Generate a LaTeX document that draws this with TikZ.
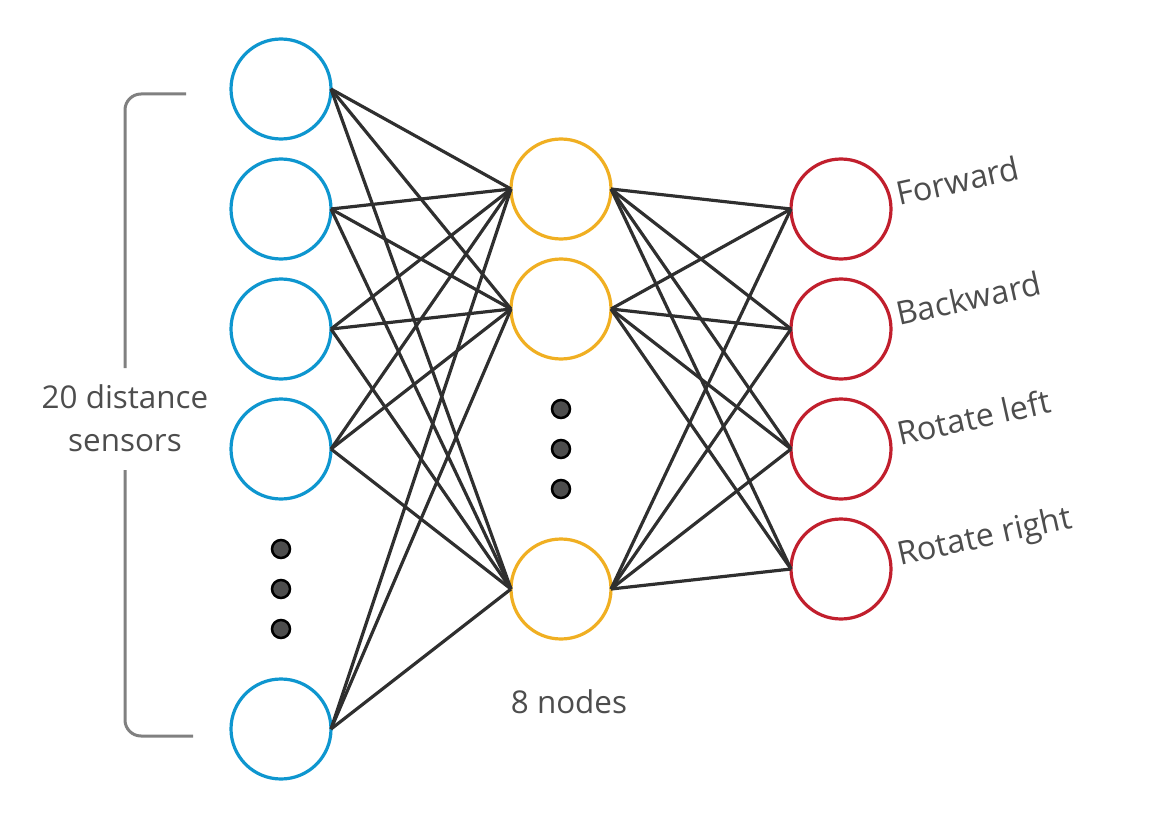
\documentclass[tikz,border=0pt]{standalone}
\usepackage{fontspec}
\setmainfont{Open Sans}
\definecolor{inblue}{HTML}{0E96CF}
\definecolor{hidorange}{HTML}{F0AF22}
\definecolor{outred}{HTML}{C11F2D}
\definecolor{edgegray}{HTML}{2F2F2F}
\definecolor{textgray}{HTML}{4D4D4D}
\definecolor{bracketgray}{HTML}{808080}
\begin{document}
\begin{tikzpicture}[x=1bp,y=-1bp,
  neuron/.style={circle,draw,line width=3.2bp,minimum size=100bp,inner sep=0pt,outer sep=0pt},
  inneuron/.style={neuron,draw=inblue},
  hidneuron/.style={neuron,draw=hidorange},
  outneuron/.style={neuron,draw=outred},
  edge/.style={draw=edgegray,line width=3.2bp},
  dotmark/.style={circle,fill=textgray,draw=black,line width=2.5bp,minimum size=18bp,inner sep=0pt},
  lbl/.style={text=textgray,font=\fontsize{31.5}{43}\selectfont},
  outlbl/.style={text=textgray,font=\fontsize{32.5}{43}\selectfont,anchor=base west,rotate=12.5,inner sep=0pt}
]
\useasboundingbox (0,0) rectangle (1169,820);
% input layer
\node[inneuron] (i1) at (281,89) {};
\node[inneuron] (i2) at (281,209) {};
\node[inneuron] (i3) at (281,329) {};
\node[inneuron] (i4) at (281,449) {};
\node[inneuron] (i5) at (281,729) {};
\node[dotmark] (d1) at (281,549) {};
\node[dotmark] (d2) at (281,589) {};
\node[dotmark] (d3) at (281,629) {};
% hidden layer
\node[hidneuron] (h1) at (561,189) {};
\node[hidneuron] (h2) at (561,309) {};
\node[hidneuron] (h3) at (561,589) {};
\node[dotmark] (e1) at (561,409) {};
\node[dotmark] (e2) at (561,449) {};
\node[dotmark] (e3) at (561,489) {};
% output layer
\node[outneuron] (o1) at (841,209) {};
\node[outneuron] (o2) at (841,329) {};
\node[outneuron] (o3) at (841,449) {};
\node[outneuron] (o4) at (841,569) {};
% connections
\foreach \i in {i1,i2,i3,i4,i5}
  \foreach \h in {h1,h2,h3}
    \draw[edge] (\i.east) -- (\h.west);
\foreach \h in {h1,h2,h3}
  \foreach \o in {o1,o2,o3,o4}
    \draw[edge] (\h.east) -- (\o.west);
% labels
\node[outlbl] (l1) at (899,206) {Forward};
\node[outlbl] (l2) at (899,326) {Backward};
\node[outlbl] (l3) at (900,446) {Rotate left};
\node[outlbl] (l4) at (900,566) {Rotate right};
\node[lbl,align=center] (hl) at (569,702) {8 nodes};
\node[lbl,align=center,inner sep=0pt] (sl) at (125,418) {20 distance\\sensors};
% bracket
\coordinate (bt) at (186,94);
\coordinate (bb) at (193,736);
\draw[bracketgray,line width=3bp,rounded corners=16bp] (bt) -- (125,94) -- (125,368);
\draw[bracketgray,line width=3bp,rounded corners=16bp] (125,470) -- (125,736) -- (bb);
\end{tikzpicture}
\end{document}
